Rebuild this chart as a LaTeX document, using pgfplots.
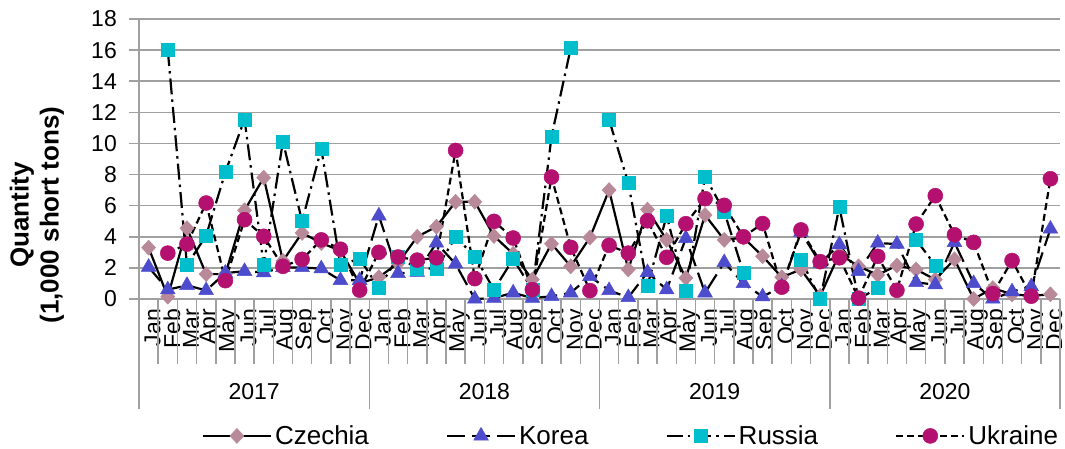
\documentclass[border=0pt]{standalone}
\usepackage{pgfplots}
\usepackage{pgfplotstable}
\pgfplotsset{compat=1.18}
\usepackage{fontspec}
\setmainfont{Liberation Sans}
\definecolor{cz}{RGB}{184,137,153}
\definecolor{ko}{RGB}{76,76,204}
\definecolor{ru}{RGB}{0,190,204}
\definecolor{uk}{RGB}{180,16,112}
\definecolor{gridgray}{RGB}{160,160,160}

\pgfplotstableread{
x  cz    ko    ru     uk
0  3.30  2.05  nan    nan
1  0.15  0.60  16.00  2.95
2  4.55  0.88  2.17   3.53
3  1.60  0.55  4.08   6.17
4  1.60  1.67  8.15   1.18
5  5.70  1.78  11.55  5.10
6  7.80  1.70  2.17   4.03
7  2.45  2.03  10.13  2.10
8  4.25  2.03  5.00   2.55
9  3.60  1.95  9.66   3.80
10 3.10  1.20  2.18   3.20
11 1.00  1.20  2.60   0.57
12 1.40  5.35  0.70   3.00
13 2.30  1.65  2.70   2.70
14 4.00  1.72  1.97   2.50
15 4.65  3.60  1.95   2.65
16 6.25  2.25  3.98   9.55
17 6.25  0.00  2.74   1.31
18 4.05  0.06  0.60   4.99
19 2.90  0.40  2.57   3.92
20 1.25  0.06  0.60   0.60
21 3.55  0.17  10.45  7.84
22 2.10  0.40  16.12  3.32
23 3.95  1.46  nan    0.54
24 7.00  0.55  11.52  3.45
25 1.90  0.10  7.45   2.95
26 5.75  1.71  0.86   5.03
27 3.80  0.60  5.35   2.68
28 1.35  3.90  0.54   4.84
29 5.40  0.40  7.88   6.45
30 3.80  2.35  5.62   6.02
31 3.95  1.00  1.70   4.00
32 2.75  0.15  nan    4.85
33 1.40  0.80  nan    0.76
34 1.90  4.30  2.55   4.44
35 0.20  2.30  0.00   2.40
36 2.90  3.50  5.90   2.65
37 2.10  1.78  0.00   0.06
38 1.55  3.60  0.70   2.74
39 2.15  3.53  nan    0.56
40 1.90  1.07  3.81   4.82
41 1.25  0.92  2.16   6.64
42 2.55  3.64  nan    4.13
43 0.00  1.00  nan    3.64
44 0.70  0.00  nan    0.35
45 0.30  0.47  nan    2.47
46 0.20  0.80  nan    0.18
47 0.30  4.50  nan    7.73
}\datatable

\begin{document}
\begin{tikzpicture}
\begin{axis}[
  at={(139pt,150pt)}, anchor=south west,
  width=921pt, height=280pt, scale only axis,
  xmin=-0.5, xmax=47.5, ymin=0, ymax=18,
  clip=false,
  axis x line*=bottom, axis y line*=left,
  axis line style={gridgray, line width=1.5pt},
  ytick={0,2,...,18},
  ymajorgrids, major grid style={gridgray, line width=1.5pt},
  xtick={0,...,47},
  xticklabels={Jan,Feb,Mar,Apr,May,Jun,Jul,Aug,Sep,Oct,Nov,Dec,Jan,Feb,Mar,Apr,May,Jun,Jul,Aug,Sep,Oct,Nov,Dec,Jan,Feb,Mar,Apr,May,Jun,Jul,Aug,Sep,Oct,Nov,Dec,Jan,Feb,Mar,Apr,May,Jun,Jul,Aug,Sep,Oct,Nov,Dec},
  major tick length=10pt,
  tick align=outside,
  every tick/.append style={gridgray, line width=1.5pt},
  xtick style={draw=none},
  xticklabel style={rotate=90, anchor=east, font=\fontsize{23}{23}\selectfont, inner sep=0pt, yshift=-4pt},
  yticklabel style={font=\fontsize{23}{23}\selectfont, inner sep=0pt, xshift=-12pt},
  /pgf/number format/assume math mode=true,
  unbounded coords=jump,
  every axis plot/.append style={line width=2.2pt, black},
  legend columns=4,
  legend style={at={(axis description cs:0.068,-0.489)}, anchor=west, draw=none, fill=none,
    font=\fontsize{26}{26}\selectfont, inner sep=0pt,
    nodes={inner sep=3pt},
    /tikz/every even column/.append style={column sep=74pt}},
  legend image code/.code={\draw[mark repeat=2,mark phase=2,#1] plot coordinates {(0pt,0pt) (34pt,0pt) (68pt,0pt)};},
]
\pgfplotsinvokeforeach{0.5,1.5,...,46.5}{
  \draw[gridgray, line width=1.5pt] (axis cs:#1,0) -- ++(0pt,-65pt);
}
\pgfplotsinvokeforeach{-0.5,11.5,23.5,35.5,47.5}{
  \draw[gridgray, line width=1.5pt] (axis cs:#1,0) -- ++(0pt,-110pt);
}
\node[font=\fontsize{23}{23}\selectfont] at (axis cs:5.5,0) [yshift=-93pt] {2017};
\node[font=\fontsize{23}{23}\selectfont] at (axis cs:17.5,0) [yshift=-93pt] {2018};
\node[font=\fontsize{23}{23}\selectfont] at (axis cs:29.5,0) [yshift=-93pt] {2019};
\node[font=\fontsize{23}{23}\selectfont] at (axis cs:41.5,0) [yshift=-93pt] {2020};

\addplot[solid, mark=diamond*, mark size=7.5pt, mark options={solid, fill=cz, draw=cz, line width=0.5pt, xscale=1.25}] table[x=x, y=cz] {\datatable};
\addlegendentry{Czechia}
\addplot[dash pattern=on 18pt off 7pt, mark=triangle*, mark size=8.5pt, mark options={solid, fill=ko, draw=ko, line width=0.5pt}] table[x=x, y=ko] {\datatable};
\addlegendentry{Korea}
\addplot[dash pattern=on 16pt off 5pt on 2.5pt off 5pt, mark=square*, mark size=6.5pt, mark options={solid, fill=ru, draw=ru, line width=0.5pt}] table[x=x, y=ru] {\datatable};
\addlegendentry{Russia}
\addplot[dash pattern=on 7pt off 4pt, mark=*, mark size=7.5pt, mark options={solid, fill=uk, draw=uk, line width=0.5pt}] table[x=x, y=uk] {\datatable};
\addlegendentry{Ukraine}
\end{axis}
\node[rotate=90, align=center, font=\bfseries\fontsize{26}{30}\selectfont] at (37pt,234pt) {Quantity\\(1,000 short tons)};
\pgfresetboundingbox
\path[use as bounding box] (0pt,0pt) rectangle (1065pt,449pt);
\end{tikzpicture}
\end{document}
